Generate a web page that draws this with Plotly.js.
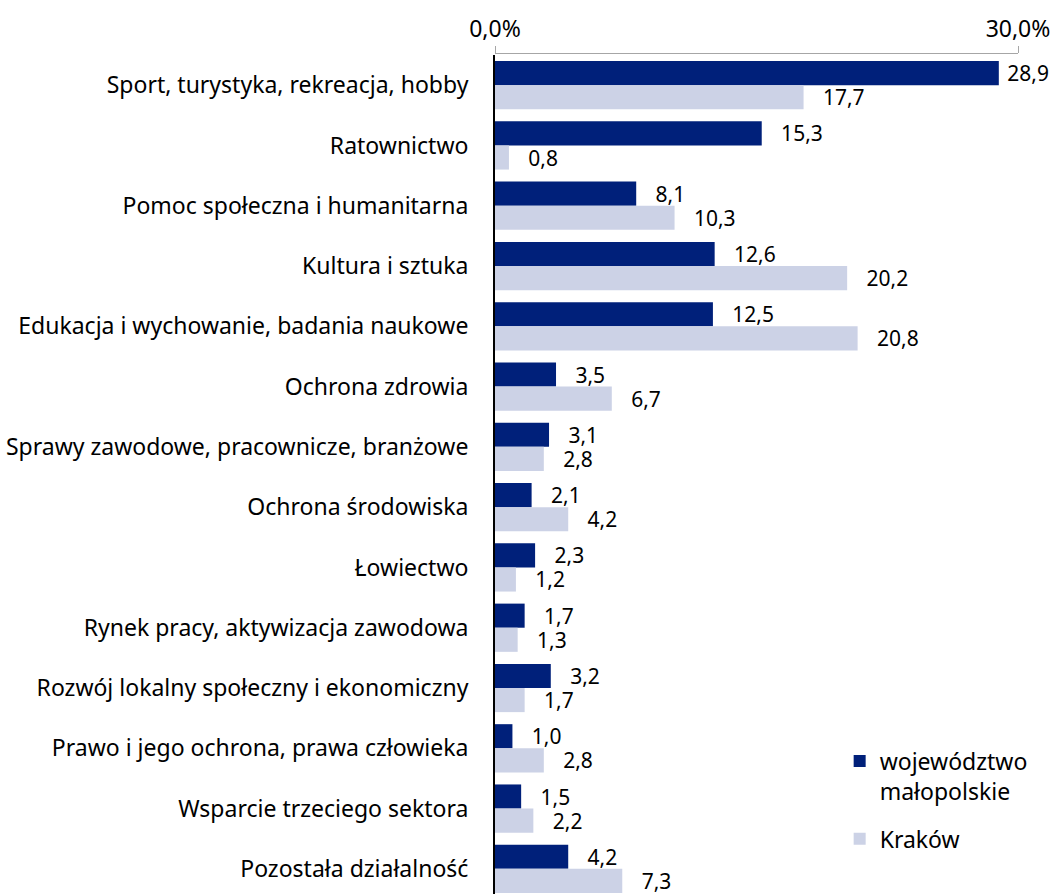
<!DOCTYPE html>
<html>
<head>
<meta charset="utf-8">
<script src="https://cdn.plot.ly/plotly-3.0.1.min.js"></script>
<style>html,body{margin:0;padding:0;background:#fff;}</style>
</head>
<body>
<div id="chart" style="width:1060px;height:894px;"></div>
<script>
const categories = [
  "Sport, turystyka, rekreacja, hobby",
  "Ratownictwo",
  "Pomoc społeczna i humanitarna",
  "Kultura i sztuka",
  "Edukacja i wychowanie, badania naukowe",
  "Ochrona zdrowia",
  "Sprawy zawodowe, pracownicze, branżowe",
  "Ochrona środowiska",
  "Łowiectwo",
  "Rynek pracy, aktywizacja zawodowa",
  "Rozwój lokalny społeczny i ekonomiczny",
  "Prawo i jego ochrona, prawa człowieka",
  "Wsparcie trzeciego sektora",
  "Pozostała działalność"
];
const malopolskie = [28.9, 15.3, 8.1, 12.6, 12.5, 3.5, 3.1, 2.1, 2.3, 1.7, 3.2, 1.0, 1.5, 4.2];
const krakow = [17.7, 0.8, 10.3, 20.2, 20.8, 6.7, 2.8, 4.2, 1.2, 1.3, 1.7, 2.8, 2.2, 7.3];
const seriesNames = ["województwo<br>małopolskie", "Kraków"];
const xTickVals = [0, 30];

const FONT = "'Noto Sans', sans-serif";
const FS = 23;
const LFS = 21;
const navy = "#00207A";
const light = "#CCD2E6";

function bar(vals, name, color, group) {
  return {
    type: "bar",
    orientation: "h",
    y: categories,
    x: vals,
    name: name,
    legendgroup: group,
    marker: {color: color, line: {width: 0}},
    texttemplate: vals.map(v => (v > 27 ? "\u00a0%{x:.1f}" : "\u00a0\u00a0\u00a0%{x:.1f}")),
    textposition: "outside",
    constraintext: "none",
    cliponaxis: false,
    textfont: {family: FONT, size: LFS, color: "#000"},
    hoverinfo: "skip"
  };
}

const data = [bar(malopolskie, seriesNames[0], navy, "a"), bar(krakow, seriesNames[1], light, "b")];

const layout = {
  width: 1060,
  height: 894,
  margin: {l: 495, r: 42, t: 53, b: 0},
  paper_bgcolor: "#fff",
  plot_bgcolor: "#fff",
  separators: ",.",
  barmode: "group",
  bargap: 0.2,
  bargroupgap: 0,
  font: {family: FONT, size: FS, color: "#000"},
  showlegend: true,
  legend: {
    x: 0.659, y: 0.1836, xanchor: "left", yanchor: "top",
    font: {family: FONT, size: FS, color: "#000"},
    traceorder: "grouped",
    tracegroupgap: 15, itemwidth: 30, valign: "top",
    bgcolor: "rgba(0,0,0,0)"
  },
  xaxis: {
    side: "top",
    anchor: "free",
    position: 1,
    range: [0, 30],
    tickvals: xTickVals,
    ticktext: xTickVals.map(v => v.toFixed(1).replace(".", ",") + "%"),
    ticks: "outside",
    ticklen: 7,
    tickcolor: "#A6A6A6",
    showline: true,
    linecolor: "#A6A6A6",
    linewidth: 1,
    showgrid: false,
    zeroline: false,
    tickfont: {family: FONT, size: FS, color: "#000"},
    fixedrange: true
  },
  yaxis: {
    domain: [0, 0.9976],
    range: [13.5 - 5 / 60.29, -0.5],
    type: "category",
    showline: true,
    linecolor: "#000",
    linewidth: 2,
    ticks: "",
    showgrid: false,
    zeroline: false,
    ticklabelstandoff: 20,
    tickfont: {family: FONT, size: FS, color: "#000"},
    fixedrange: true
  }
};

Plotly.newPlot("chart", data, layout, {displayModeBar: false, staticPlot: true});
</script>
</body>
</html>
